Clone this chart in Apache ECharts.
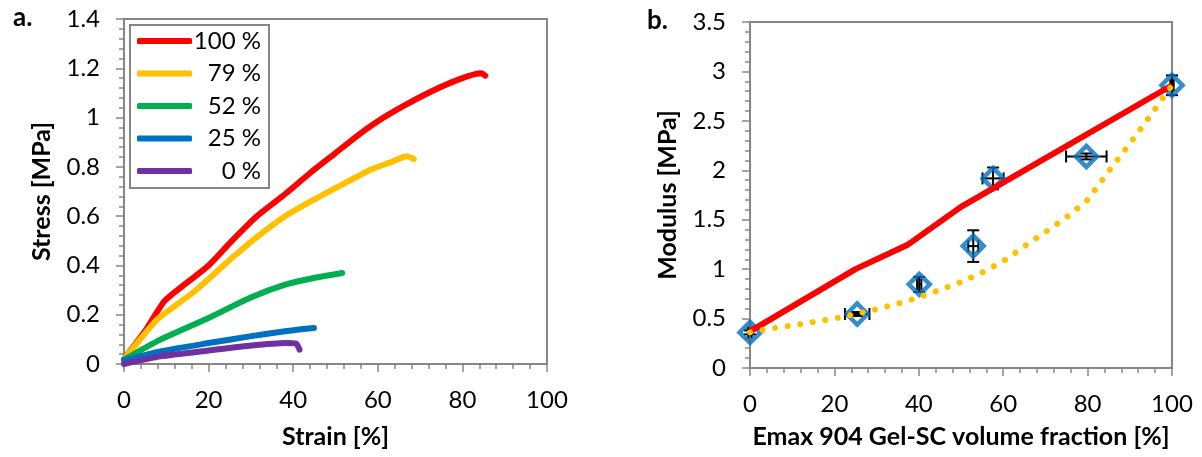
<!DOCTYPE html>
<html><head><meta charset="utf-8">
<script src="https://cdn.jsdelivr.net/npm/echarts@6/dist/echarts.min.js"></script>
<style>html,body{margin:0;padding:0;background:#fff}#c{width:1202px;height:457px}</style>
</head><body><div id="c"></div>
<script>
// Panel a: stress-strain curves [strain %, stress MPa]
const legendNames = ['100 %', '79 %', '52 %', '25 %', '0 %'];
const curve100 = [[0,0.02],[5.2,0.139],[9.5,0.254],[14.5,0.325],[20,0.40],[25.5,0.50],[31.4,0.60],[38.1,0.69],[44,0.775],[50,0.856],[55,0.924],[60,0.985],[66,1.046],[71.9,1.10],[79.5,1.157],[84.5,1.18],[85.4,1.17]];
const curve79 = [[0,0.02],[7.8,0.18],[12,0.235],[16.2,0.288],[20,0.345],[25.5,0.43],[31.4,0.515],[38.1,0.60],[44.9,0.667],[51.6,0.728],[58.4,0.789],[63.5,0.822],[66.8,0.843],[68.5,0.832]];
const curve52 = [[0,0.018],[8.6,0.099],[20,0.187],[29.7,0.268],[38.1,0.322],[44.9,0.349],[51.6,0.369]];
const curve25 = [[0,0.015],[8.6,0.051],[20,0.085],[29.7,0.112],[38.1,0.133],[44.9,0.146]];
const curve0 = [[0,0],[8.6,0.031],[20,0.055],[29.7,0.074],[38.1,0.085],[40.7,0.083],[41.5,0.058]];
const curveColors = ['#FF0000', '#FFC000', '#00B050', '#0070C0', '#7030A0'];

// Panel b: modulus vs volume fraction
const fracX = [0, 25.4, 40.1, 52.9, 57.6, 79.7, 100];
const modulusY = [0.36, 0.546, 0.846, 1.233, 1.918, 2.14, 2.86];
const fracErr = [0.4, 2.9, 0.5, 1.2, 2.5, 4.8, 0.4];
const modulusErr = [0.02, 0.02, 0.076, 0.16, 0.11, 0.03, 0.1];
const upperX = [0, 25, 37.5, 50, 100];
const upperY = [0.37, 1.0, 1.25, 1.63, 2.86];
const lowerX = [0,5,10,15,20,25,30,35,40,45,50,55,60,65,70,75,80,85,90,95,100];
const lowerY = [0.36,0.40,0.43,0.465,0.50,0.545,0.595,0.65,0.715,0.79,0.87,0.965,1.08,1.23,1.375,1.525,1.70,1.99,2.27,2.56,2.86];

const axisGray = '#868686';
const FONT = 'Lato';
function valAxis(gridIndex, min, max, interval, extra) {
  return Object.assign({
    type: 'value', gridIndex, min, max, interval,
    axisLine: { show: true, lineStyle: { color: axisGray, width: 2 } },
    axisTick: { show: true, length: 8, lineStyle: { color: axisGray, width: 1.5 } },
    minorTick: { show: true, splitNumber: 5, length: 5, lineStyle: { color: axisGray, width: 1.5 } },
    splitLine: { show: false },
    axisLabel: { color: '#000', fontFamily: FONT, fontSize: 24, margin: 24 },
    nameLocation: 'middle',
    nameTextStyle: { color: '#000', fontFamily: FONT, fontSize: 25, fontWeight: 'bold' }
  }, extra);
}

const series = [];
[curve100, curve79, curve52, curve25, curve0].forEach((d, i) => {
  series.push({
    type: 'line', name: legendNames[i], xAxisIndex: 0, yAxisIndex: 0,
    data: d, symbol: 'none', showSymbol: false, color: curveColors[i], smooth: 0.2,
    lineStyle: { width: 6, color: curveColors[i], cap: 'round', join: 'round' }
  });
});
series.push({
  type: 'line', name: 'upper', xAxisIndex: 1, yAxisIndex: 1, symbol: 'none',
  data: upperX.map((x, i) => [x, upperY[i]]),
  lineStyle: { width: 6, color: '#FF0000', join: 'round' }
});
series.push({
  type: 'line', name: 'lower', xAxisIndex: 1, yAxisIndex: 1, symbol: 'none',
  data: lowerX.map((x, i) => [x, lowerY[i]]),
  lineStyle: { width: 6, color: '#FFC000', type: [0.1, 12.6], cap: 'round', join: 'round' }
});
series.push({
  type: 'custom', name: 'err', xAxisIndex: 1, yAxisIndex: 1, clip: false,
  data: fracX.map((x, i) => [x, modulusY[i], fracErr[i], modulusErr[i]]),
  encode: { x: 0, y: 1 },
  renderItem: function (params, api) {
    const x = api.value(0), y = api.value(1), ex = api.value(2), ey = api.value(3);
    const t = api.coord([x, y + ey]), b = api.coord([x, y - ey]);
    const l = api.coord([x - ex, y]), r = api.coord([x + ex, y]);
    const cap = 6;
    const st = { stroke: '#000', lineWidth: 2 };
    const ln = (x1, y1, x2, y2) => ({ type: 'line', shape: { x1, y1, x2, y2 }, style: st });
    return { type: 'group', children: [
      ln(t[0], t[1], b[0], b[1]), ln(t[0] - cap, t[1], t[0] + cap, t[1]), ln(b[0] - cap, b[1], b[0] + cap, b[1]),
      ln(l[0], l[1], r[0], r[1]), ln(l[0], l[1] - cap, l[0], l[1] + cap), ln(r[0], r[1] - cap, r[0], r[1] + cap)
    ] };
  }
});
series.push({
  type: 'scatter', name: 'measured', xAxisIndex: 1, yAxisIndex: 1,
  data: fracX.map((x, i) => [x, modulusY[i]]),
  symbol: 'diamond', symbolSize: 21,
  itemStyle: { color: 'rgba(255,255,255,0)', borderColor: '#0070C0', borderWidth: 4.5 }
});

const chart = echarts.init(document.getElementById('c'), null, { renderer: 'canvas' });
chart.setOption({
  animation: false,
  backgroundColor: '#fff',
  grid: [
    { left: 124, top: 19, width: 423, height: 345, show: true, borderColor: axisGray, borderWidth: 2, backgroundColor: 'transparent' },
    { left: 750, top: 22, width: 422, height: 346, show: true, borderColor: axisGray, borderWidth: 2, backgroundColor: 'transparent' }
  ],
  xAxis: [
    valAxis(0, 0, 100, 20, { name: 'Strain [%]', nameGap: 60 }),
    valAxis(1, 0, 100, 20, { name: 'Emax 904 Gel-SC volume fraction [%]', nameGap: 56 })
  ],
  yAxis: [
    valAxis(0, 0, 1.4, 0.2, { name: 'Stress [MPa]', nameGap: 70 }),
    valAxis(1, 0, 3.5, 0.5, { name: 'Modulus [MPa]', nameGap: 70 })
  ],
  legend: {
    data: legendNames, left: 130, top: 25, orient: 'vertical',
    padding: [4, 8, 5, 7], itemGap: 8.5, itemWidth: 55, itemHeight: 6, icon: 'roundRect',
    borderColor: axisGray, borderWidth: 2, backgroundColor: '#fff',
    formatter: n => '{t|' + n + '}',
    textStyle: { rich: { t: { width: 64, align: 'right', fontSize: 24, fontFamily: FONT, color: '#000', lineHeight: 22 } } }
  },
  graphic: [
    { type: 'text', left: 13, top: 5, style: { text: 'a.', font: 'bold 26px Lato', fill: '#000' } },
    { type: 'text', left: 647, top: 8, style: { text: 'b.', font: 'bold 26px Lato', fill: '#000' } }
  ],
  series
});
</script>
</body></html>
